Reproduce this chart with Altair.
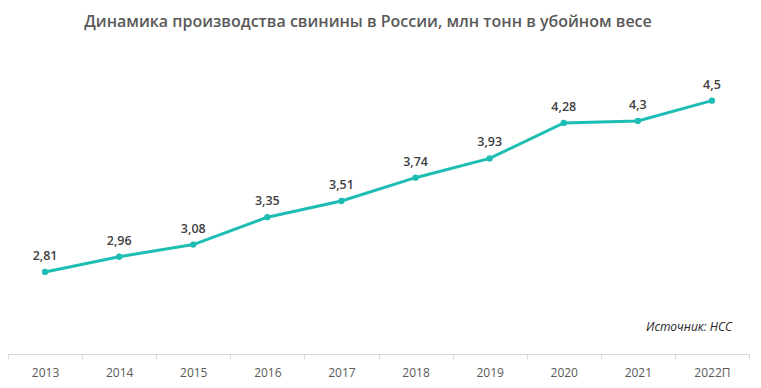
import altair as alt
import pandas as pd

years = ["2013", "2014", "2015", "2016", "2017", "2018", "2019", "2020", "2021", "2022П"]
values = [2.81, 2.96, 3.08, 3.35, 3.51, 3.74, 3.93, 4.28, 4.30, 4.50]
labels = ["2,81", "2,96", "3,08", "3,35", "3,51", "3,74", "3,93", "4,28", "4,3", "4,5"]

title_text = "Динамика производства свинины в России, млн тонн в убойном весе"
source_text = "Источник: НСС"

df = pd.DataFrame({"year": years, "value": values, "label": labels})

FONT = "Open Sans"
TEAL = "#1DBDB4"

x = alt.X("year:N", sort=years, title=None,
          scale=alt.Scale(paddingInner=0, paddingOuter=0),
          axis=alt.Axis(labelAngle=0, tickBand="extent", domainColor="#d9d9d9",
                        tickColor="#d9d9d9", tickSize=5, labelColor="#595959",
                        labelFontSize=12, labelFont=FONT, labelPadding=8, grid=False))
y = alt.Y("value:Q", scale=alt.Scale(domain=[2, 5]), axis=None)

base = alt.Chart(df).encode(x=x, y=y)

line = base.mark_line(color=TEAL, strokeWidth=3)
pts = base.mark_circle(color=TEAL, size=40, opacity=1)
txt = base.mark_text(dy=-16, fontSize=12.5, fontWeight=600, font=FONT,
                     color="#404040").encode(text="label:N")

ann = pd.DataFrame({"t": [title_text], "s": [source_text]})
title = alt.Chart(ann).mark_text(fontSize=16, fontWeight=600, font=FONT,
                                 color="#595959", align="center").encode(
    text="t:N", x=alt.value(360), y=alt.value(-28))
source = alt.Chart(ann).mark_text(fontSize=12, fontStyle="italic", font=FONT,
                                  color="#262626", align="right").encode(
    text="s:N", x=alt.value(724), y=alt.value(277))

chart = alt.layer(line, pts, txt, title, source).properties(
    width=741, height=304,
    autosize=alt.AutoSizeParams(type="none"),
    padding={"left": 0, "top": 42, "right": 4, "bottom": 26},
).configure_view(stroke=None)

chart.save("out.html", embed_options={"renderer": "svg", "actions": False})
